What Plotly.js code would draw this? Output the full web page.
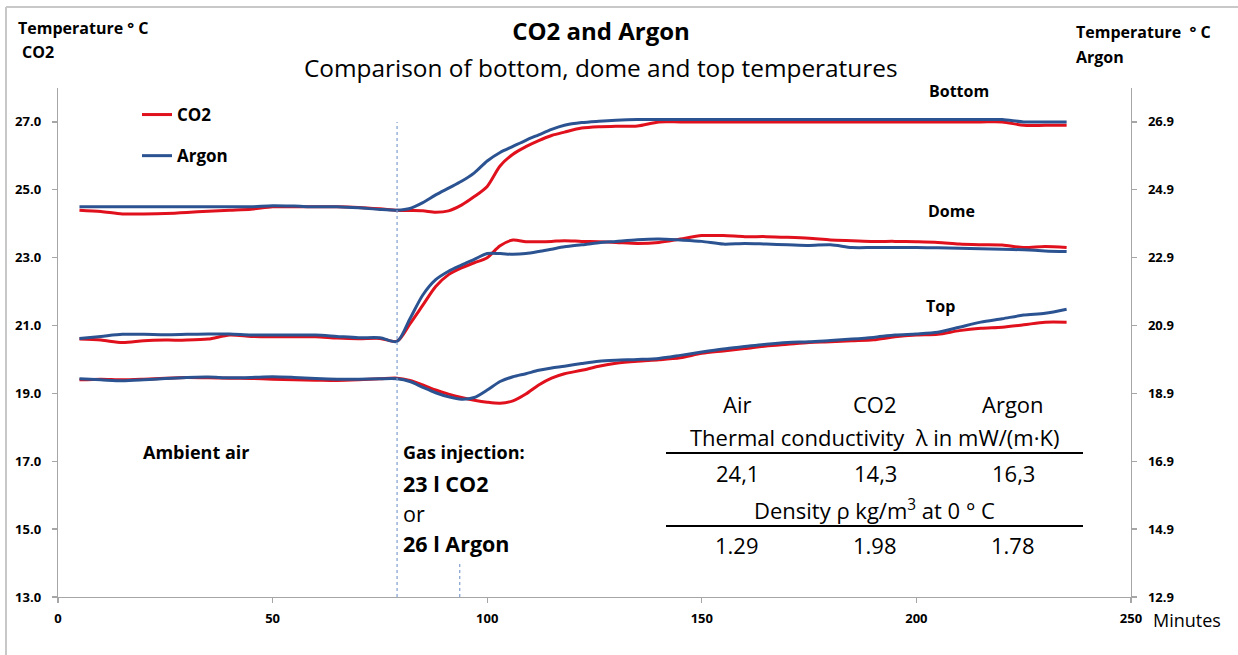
<!DOCTYPE html>
<html>
<head>
<meta charset="utf-8">
<script src="https://cdn.plot.ly/plotly-3.0.1.min.js"></script>
<style>html,body{margin:0;padding:0;background:#fff;}#chart{width:1238px;height:655px;}</style>
</head>
<body>
<div id="chart"></div>
<script>
// Time in minutes
const minutes = [5,10,15,20,25,30,35,40,45,50,55,60,65,70,75,79,82,85,88,91,94,97,100,103,106,109,112,115,118,122,126,130,135,140,145,150,155,160,165,170,175,180,185,190,195,200,205,210,215,220,225,230,235];

// CO2 temperatures (left axis, °C)
const bottomCO2 = [24.40,24.36,24.29,24.29,24.30,24.33,24.37,24.40,24.43,24.50,24.50,24.50,24.50,24.48,24.44,24.40,24.39,24.38,24.34,24.38,24.55,24.80,25.10,25.70,26.05,26.27,26.45,26.60,26.70,26.82,26.86,26.87,26.88,27.00,27.00,27.00,27.00,27.00,27.00,27.00,27.00,27.00,27.00,27.00,27.00,27.00,27.00,27.00,27.00,27.00,26.90,26.90,26.90];
const domeCO2 = [20.60,20.57,20.50,20.55,20.57,20.57,20.60,20.72,20.68,20.67,20.67,20.67,20.63,20.61,20.62,20.54,21.05,21.60,22.15,22.50,22.70,22.85,23.00,23.35,23.52,23.47,23.47,23.48,23.50,23.48,23.47,23.45,23.42,23.45,23.55,23.65,23.65,23.62,23.62,23.60,23.57,23.52,23.50,23.48,23.48,23.47,23.45,23.40,23.38,23.37,23.30,23.33,23.30];
const topCO2 = [19.40,19.42,19.40,19.42,19.45,19.47,19.46,19.45,19.44,19.42,19.40,19.39,19.38,19.40,19.43,19.45,19.38,19.25,19.10,18.98,18.88,18.80,18.74,18.71,18.78,18.98,19.25,19.45,19.58,19.68,19.80,19.89,19.95,19.99,20.05,20.18,20.25,20.32,20.40,20.45,20.50,20.52,20.55,20.58,20.67,20.72,20.74,20.85,20.92,20.95,21.02,21.10,21.10];

// Argon temperatures (right axis, °C)
const bottomArgon = [24.40,24.40,24.40,24.40,24.40,24.40,24.40,24.40,24.40,24.43,24.42,24.40,24.40,24.37,24.32,24.30,24.35,24.52,24.75,24.95,25.15,25.40,25.75,26.00,26.18,26.36,26.52,26.68,26.80,26.88,26.92,26.95,26.97,26.97,26.97,26.97,26.97,26.97,26.97,26.97,26.97,26.97,26.97,26.97,26.97,26.97,26.97,26.97,26.97,26.97,26.90,26.90,26.90];
const domeArgon = [20.52,20.58,20.64,20.64,20.63,20.64,20.65,20.65,20.62,20.62,20.62,20.62,20.58,20.54,20.54,20.43,21.10,21.80,22.25,22.50,22.68,22.85,23.02,23.02,23.00,23.02,23.08,23.15,23.22,23.28,23.34,23.38,23.43,23.45,23.42,23.38,23.30,23.32,23.30,23.28,23.26,23.28,23.20,23.20,23.20,23.20,23.19,23.18,23.16,23.15,23.13,23.10,23.08];
const topArgon = [19.33,19.30,19.27,19.30,19.34,19.37,19.38,19.36,19.37,19.39,19.37,19.34,19.32,19.32,19.33,19.33,19.25,19.08,18.92,18.80,18.73,18.78,19.00,19.25,19.39,19.48,19.58,19.65,19.70,19.78,19.85,19.88,19.90,19.93,20.02,20.12,20.21,20.28,20.35,20.40,20.42,20.46,20.50,20.55,20.62,20.65,20.70,20.85,21.00,21.10,21.21,21.26,21.38];

// Injection markers (minutes)
const injectionStart = 79;
const injectionEnd = 93.6;

// Table contents
const gases = ['Air','CO2','Argon'];
const conductivity = ['24,1','14,3','16,3'];
const density = ['1.29','1.98','1.78'];

const RED = '#e0101c';
const BLUE = '#2c5391';
const FONT = '"Open Sans", Lato, sans-serif';

function tr(y, color, name, group, show, axis) {
  return {x: minutes, y: y, type: 'scatter', mode: 'lines', name: name,
    legendgroup: group, showlegend: show, yaxis: axis,
    line: {color: color, width: 3, shape: 'spline', smoothing: 0.8},
    hoverinfo: 'x+y'};
}

const data = [
  tr(bottomCO2, RED, 'CO2', 'co2', true, 'y'),
  tr(domeCO2, RED, 'CO2', 'co2', false, 'y'),
  tr(topCO2, RED, 'CO2', 'co2', false, 'y'),
  tr(bottomArgon, BLUE, 'Argon', 'ar', true, 'y2'),
  tr(domeArgon, BLUE, 'Argon', 'ar', false, 'y2'),
  tr(topArgon, BLUE, 'Argon', 'ar', false, 'y2')
];

const L = 58, R = 1131, T = 88, B = 597;
function px2x(px){ return (px-L)/(R-L); }
function py2y(py){ return (B-py)/(B-T); }

function ann(text, px, py, size, opts) {
  return Object.assign({text: text, xref: 'paper', yref: 'paper', x: px2x(px), y: py2y(py),
    showarrow: false, xanchor: 'left', yanchor: 'middle',
    font: {family: FONT, size: size, color: '#000'}}, opts || {});
}

const tableCols = [737, 875, 1013];
const annotations = [
  ann('<b>Temperature ° C</b>', 16, 28, 16),
  ann('<b>CO2</b>', 20, 52, 16),
  ann('<b>Temperature  ° C</b>', 1074, 32, 16),
  ann('<b>Argon</b>', 1074, 57, 16),
  ann('Comparison of bottom, dome and top temperatures', 601, 67, 24.4, {xanchor: 'center'}),
  ann('<b>Bottom</b>', 959, 91, 16, {xanchor: 'center'}),
  ann('<b>Dome</b>', 951, 211, 16, {xanchor: 'center'}),
  ann('<b>Top</b>', 940, 306, 16, {xanchor: 'center'}),
  ann('<b>Ambient air</b>', 141, 452, 18),
  ann('<b>Gas injection:</b>', 401, 452, 18),
  ann('<b>23 l CO2</b>', 401, 483, 21.5),
  ann('or', 401, 513, 21.5),
  ann('<b>26 l Argon</b>', 401, 543, 21.5),
  ann('Minutes', 1151, 620, 18),
  ann('Thermal conductivity  λ in mW/(m·K)', 874, 437, 22, {xanchor: 'center'}),
  ann('Density ρ kg/m<sup>3</sup> at 0 ° C', 874, 509, 22, {xanchor: 'center'})
];
gases.forEach((g,i)=>annotations.push(ann(g, tableCols[i], 404, 22, {xanchor:'center'})));
conductivity.forEach((g,i)=>annotations.push(ann(g, tableCols[i], 473, 22, {xanchor:'center'})));
density.forEach((g,i)=>annotations.push(ann(g, tableCols[i], 545, 22, {xanchor:'center'})));

const shapes = [
  {type:'line', xref:'x', yref:'y', x0: injectionStart, x1: injectionStart, y0: 13, y1: 27,
   line:{color:'#7f9fd0', width:1.2, dash:'3px,3px'}},
  {type:'line', xref:'x', yref:'y', x0: injectionEnd, x1: injectionEnd, y0: 13, y1: 14.05,
   line:{color:'#7f9fd0', width:1.2, dash:'3px,3px'}},
  {type:'line', xref:'paper', yref:'paper', x0: px2x(666), x1: px2x(1083), y0: py2y(453), y1: py2y(453),
   line:{color:'#000', width:2}},
  {type:'line', xref:'paper', yref:'paper', x0: px2x(666), x1: px2x(1083), y0: py2y(526), y1: py2y(526),
   line:{color:'#000', width:2}},
  {type:'line', xref:'paper', yref:'paper', x0: px2x(6), x1: px2x(1240), y0: py2y(7), y1: py2y(7),
   line:{color:'#c8c8c8', width:2}},
  {type:'line', xref:'paper', yref:'paper', x0: px2x(6), x1: px2x(6), y0: py2y(7), y1: py2y(660),
   line:{color:'#c8c8c8', width:2}}
];

const axisCommon = {showgrid:false, zeroline:false, showline:true, linecolor:'#a6a6a6', linewidth:1.3,
  ticks:'outside', ticklen:5, tickcolor:'#a6a6a6', tickwidth:1.3,
  tickfont:{family: FONT, size:13, color:'#000', weight:'bold'}};

const layout = {
  width: 1238, height: 655,
  margin: {l:L, r:1238-R, t:T, b:655-B},
  paper_bgcolor:'#fff', plot_bgcolor:'#fff',
  font: {family: FONT, color:'#000'},
  title: {text:'<b>CO2 and Argon</b>', x:px2x(601), xref:'paper', xanchor:'center', y: 1-32/655, yanchor:'middle',
    font:{family: FONT, size:24, color:'#000'}},
  xaxis: Object.assign({}, axisCommon, {range:[0,250], tick0:0, dtick:50, ticklabelstandoff:4}),
  yaxis: Object.assign({}, axisCommon, {range:[13,28], tick0:13, dtick:2, tickformat:'.1f', ticklabelstandoff:8}),
  yaxis2: Object.assign({}, axisCommon, {range:[12.9,27.9], tick0:12.9, dtick:2, tickformat:'.1f',
    overlaying:'y', side:'right', ticklabelstandoff:8}),
  showlegend: true,
  legend: {x: px2x(137), y: py2y(97), xanchor:'left', yanchor:'top', bgcolor:'rgba(0,0,0,0)',
    traceorder:'grouped', tracegroupgap: 16,
    font:{family: FONT, size:17, color:'#000', weight:'bold'}},
  annotations: annotations,
  shapes: shapes
};

Plotly.newPlot('chart', data, layout, {displayModeBar:false, staticPlot:true});
</script>
</body>
</html>
